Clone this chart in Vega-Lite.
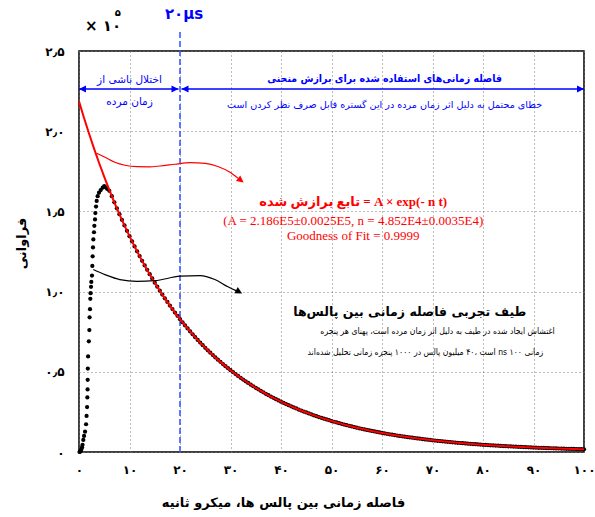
{
  "$schema": "https://vega.github.io/schema/vega-lite/v6.json",
  "width": 505,
  "height": 401,
  "autosize": {"type": "none"},
  "padding": {"left": 79, "top": 51, "right": 11, "bottom": 65},
  "background": "white",
  "config": {
    "view": {"stroke": "black", "strokeWidth": 1.5},
    "axis": {"labelColor": "black", "titleColor": "black"}
  },
  "datasets": {
    "fit": [
      {"t":0,"v":2.186},{"t":1,"v":2.0825},{"t":2,"v":1.9838},{"t":3,"v":1.8899},{"t":4,"v":1.8004},{"t":5,"v":1.7151},{"t":6,"v":1.6339},{"t":7,"v":1.5565},{"t":8,"v":1.4828},{"t":9,"v":1.4125},
      {"t":10,"v":1.3456},{"t":11,"v":1.2819},{"t":12,"v":1.2212},{"t":13,"v":1.1634},{"t":14,"v":1.1083},{"t":15,"v":1.0558},{"t":16,"v":1.0058},{"t":17,"v":0.9581},{"t":18,"v":0.9128},{"t":19,"v":0.8695},
      {"t":20,"v":0.8283},{"t":21,"v":0.7891},{"t":22,"v":0.7517},{"t":23,"v":0.7161},{"t":24,"v":0.6822},{"t":25,"v":0.6499},{"t":26,"v":0.6191},{"t":27,"v":0.5898},{"t":28,"v":0.5619},{"t":29,"v":0.5353},
      {"t":30,"v":0.5099},{"t":31,"v":0.4858},{"t":32,"v":0.4628},{"t":33,"v":0.4408},{"t":34,"v":0.42},{"t":35,"v":0.4001},{"t":36,"v":0.3811},{"t":37,"v":0.3631},{"t":38,"v":0.3459},{"t":39,"v":0.3295},
      {"t":40,"v":0.3139},{"t":41,"v":0.299},{"t":42,"v":0.2849},{"t":43,"v":0.2714},{"t":44,"v":0.2585},{"t":45,"v":0.2463},{"t":46,"v":0.2346},{"t":47,"v":0.2235},{"t":48,"v":0.2129},{"t":49,"v":0.2028},
      {"t":50,"v":0.1932},{"t":51,"v":0.1841},{"t":52,"v":0.1754},{"t":53,"v":0.1671},{"t":54,"v":0.1591},{"t":55,"v":0.1516},{"t":56,"v":0.1444},{"t":57,"v":0.1376},{"t":58,"v":0.1311},{"t":59,"v":0.1249},
      {"t":60,"v":0.1189},{"t":61,"v":0.1133},{"t":62,"v":0.1079},{"t":63,"v":0.1028},{"t":64,"v":0.098},{"t":65,"v":0.0933},{"t":66,"v":0.0889},{"t":67,"v":0.0847},{"t":68,"v":0.0807},{"t":69,"v":0.0769},
      {"t":70,"v":0.0732},{"t":71,"v":0.0698},{"t":72,"v":0.0665},{"t":73,"v":0.0633},{"t":74,"v":0.0603},{"t":75,"v":0.0575},{"t":76,"v":0.0547},{"t":77,"v":0.0521},{"t":78,"v":0.0497},{"t":79,"v":0.0473},
      {"t":80,"v":0.0451},{"t":81,"v":0.0429},{"t":82,"v":0.0409},{"t":83,"v":0.039},{"t":84,"v":0.0371},{"t":85,"v":0.0354},{"t":86,"v":0.0337},{"t":87,"v":0.0321},{"t":88,"v":0.0306},{"t":89,"v":0.0291},
      {"t":90,"v":0.0277},{"t":91,"v":0.0264},{"t":92,"v":0.0252},{"t":93,"v":0.024},{"t":94,"v":0.0229},{"t":95,"v":0.0218},{"t":96,"v":0.0207},{"t":97,"v":0.0198},{"t":98,"v":0.0188},{"t":99,"v":0.0179},{"t":100,"v":0.0171}
    ],
    "exp": [
      {"t":0.1,"v":0.0},{"t":0.2,"v":0.002},{"t":0.3,"v":0.006},{"t":0.4,"v":0.012},{"t":0.5,"v":0.02},{"t":0.6,"v":0.03},{"t":0.7,"v":0.045},{"t":0.85,"v":0.075},{"t":1.0,"v":0.1},{"t":1.2,"v":0.127},
      {"t":1.4,"v":0.173},{"t":1.5,"v":0.225},{"t":1.6,"v":0.28},{"t":1.65,"v":0.34},{"t":1.7,"v":0.39},{"t":1.72,"v":0.45},{"t":1.75,"v":0.52},{"t":1.8,"v":0.596},{"t":1.95,"v":0.69},{"t":2.05,"v":0.76},
      {"t":2.1,"v":0.84},{"t":2.18,"v":0.89},{"t":2.24,"v":0.955},{"t":2.3,"v":0.99},{"t":2.38,"v":1.03},{"t":2.44,"v":1.06},{"t":2.57,"v":1.1},{"t":2.64,"v":1.16},{"t":2.7,"v":1.22},{"t":2.77,"v":1.275},
      {"t":2.84,"v":1.325},{"t":2.97,"v":1.37},{"t":3.04,"v":1.41},{"t":3.17,"v":1.45},{"t":3.24,"v":1.49},{"t":3.37,"v":1.53},{"t":3.5,"v":1.565},{"t":3.7,"v":1.595},{"t":3.96,"v":1.617},{"t":4.3,"v":1.633},
      {"t":4.69,"v":1.648},{"t":5.0,"v":1.658},{"t":5.3,"v":1.65},{"t":5.6,"v":1.64},{"t":6.0,"v":1.628},
      {"t":6.5,"v":1.5947},{"t":7,"v":1.5565},{"t":7.5,"v":1.5192},{"t":8,"v":1.4828},{"t":8.5,"v":1.4472},{"t":9,"v":1.4125},{"t":9.5,"v":1.3787},{"t":10,"v":1.3456},{"t":10.5,"v":1.3134},{"t":11,"v":1.2819},
      {"t":11.5,"v":1.2512},{"t":12,"v":1.2212},{"t":12.5,"v":1.1919},{"t":13,"v":1.1634},{"t":13.5,"v":1.1355},{"t":14,"v":1.1083},{"t":14.5,"v":1.0817},{"t":15,"v":1.0558},{"t":15.5,"v":1.0305},{"t":16,"v":1.0058},
      {"t":16.5,"v":0.9817},{"t":17,"v":0.9581},{"t":17.5,"v":0.9352},{"t":18,"v":0.9128},{"t":18.5,"v":0.8909},{"t":19,"v":0.8695},{"t":19.5,"v":0.8487},{"t":20,"v":0.8283},{"t":20.5,"v":0.8085},{"t":21,"v":0.7891},
      {"t":21.5,"v":0.7702},{"t":22,"v":0.7517},{"t":22.5,"v":0.7337},{"t":23,"v":0.7161},{"t":23.5,"v":0.699},{"t":24,"v":0.6822},{"t":24.5,"v":0.6659},{"t":25,"v":0.6499},{"t":25.5,"v":0.6343},{"t":26,"v":0.6191},
      {"t":26.5,"v":0.6043},{"t":27,"v":0.5898},{"t":27.5,"v":0.5757},{"t":28,"v":0.5619},{"t":28.5,"v":0.5484},{"t":29,"v":0.5353},{"t":29.5,"v":0.5224},{"t":30,"v":0.5099},{"t":30.5,"v":0.4977},{"t":31,"v":0.4858},
      {"t":31.5,"v":0.4741},{"t":32,"v":0.4628},{"t":32.5,"v":0.4517},{"t":33,"v":0.4408},{"t":33.5,"v":0.4303},{"t":34,"v":0.42},{"t":34.5,"v":0.4099},{"t":35,"v":0.4001},{"t":35.5,"v":0.3905},{"t":36,"v":0.3811},
      {"t":36.5,"v":0.372},{"t":37,"v":0.3631},{"t":37.5,"v":0.3544},{"t":38,"v":0.3459},{"t":38.5,"v":0.3376},{"t":39,"v":0.3295},{"t":39.5,"v":0.3216},{"t":40,"v":0.3139},{"t":40.5,"v":0.3064},{"t":41,"v":0.299},
      {"t":41.5,"v":0.2919},{"t":42,"v":0.2849},{"t":42.5,"v":0.278},{"t":43,"v":0.2714},{"t":43.5,"v":0.2649},{"t":44,"v":0.2585},{"t":44.5,"v":0.2523},{"t":45,"v":0.2463},{"t":45.5,"v":0.2404},{"t":46,"v":0.2346},
      {"t":46.5,"v":0.229},{"t":47,"v":0.2235},{"t":47.5,"v":0.2181},{"t":48,"v":0.2129},{"t":48.5,"v":0.2078},{"t":49,"v":0.2028},{"t":49.5,"v":0.198},{"t":50,"v":0.1932},{"t":50.5,"v":0.1886},{"t":51,"v":0.1841},
      {"t":51.5,"v":0.1797},{"t":52,"v":0.1754},{"t":52.5,"v":0.1711},{"t":53,"v":0.1671},{"t":53.5,"v":0.163},{"t":54,"v":0.1591},{"t":54.5,"v":0.1553},{"t":55,"v":0.1516},{"t":55.5,"v":0.148},{"t":56,"v":0.1444},
      {"t":56.5,"v":0.141},{"t":57,"v":0.1376},{"t":57.5,"v":0.1343},{"t":58,"v":0.1311},{"t":58.5,"v":0.1279},{"t":59,"v":0.1249},{"t":59.5,"v":0.1219},{"t":60,"v":0.1189},{"t":60.5,"v":0.1161},{"t":61,"v":0.1133},
      {"t":61.5,"v":0.1106},{"t":62,"v":0.1079},{"t":62.5,"v":0.1054},{"t":63,"v":0.1028},{"t":63.5,"v":0.1004},{"t":64,"v":0.098},{"t":64.5,"v":0.0956},{"t":65,"v":0.0933},{"t":65.5,"v":0.0911},{"t":66,"v":0.0889},
      {"t":66.5,"v":0.0868},{"t":67,"v":0.0847},{"t":67.5,"v":0.0827},{"t":68,"v":0.0807},{"t":68.5,"v":0.0787},{"t":69,"v":0.0769},{"t":69.5,"v":0.075},{"t":70,"v":0.0732},{"t":70.5,"v":0.0715},{"t":71,"v":0.0698},
      {"t":71.5,"v":0.0681},{"t":72,"v":0.0665},{"t":72.5,"v":0.0649},{"t":73,"v":0.0633},{"t":73.5,"v":0.0618},{"t":74,"v":0.0603},{"t":74.5,"v":0.0589},{"t":75,"v":0.0575},{"t":75.5,"v":0.0561},{"t":76,"v":0.0547},
      {"t":76.5,"v":0.0534},{"t":77,"v":0.0521},{"t":77.5,"v":0.0509},{"t":78,"v":0.0497},{"t":78.5,"v":0.0485},{"t":79,"v":0.0473},{"t":79.5,"v":0.0462},{"t":80,"v":0.0451},{"t":80.5,"v":0.044},{"t":81,"v":0.0429},
      {"t":81.5,"v":0.0419},{"t":82,"v":0.0409},{"t":82.5,"v":0.0399},{"t":83,"v":0.039},{"t":83.5,"v":0.038},{"t":84,"v":0.0371},{"t":84.5,"v":0.0362},{"t":85,"v":0.0354},{"t":85.5,"v":0.0345},{"t":86,"v":0.0337},
      {"t":86.5,"v":0.0329},{"t":87,"v":0.0321},{"t":87.5,"v":0.0313},{"t":88,"v":0.0306},{"t":88.5,"v":0.0298},{"t":89,"v":0.0291},{"t":89.5,"v":0.0284},{"t":90,"v":0.0277},{"t":90.5,"v":0.0271},{"t":91,"v":0.0264},
      {"t":91.5,"v":0.0258},{"t":92,"v":0.0252},{"t":92.5,"v":0.0246},{"t":93,"v":0.024},{"t":93.5,"v":0.0234},{"t":94,"v":0.0229},{"t":94.5,"v":0.0223},{"t":95,"v":0.0218},{"t":95.5,"v":0.0212},{"t":96,"v":0.0207},
      {"t":96.5,"v":0.0202},{"t":97,"v":0.0198},{"t":97.5,"v":0.0193},{"t":98,"v":0.0188},{"t":98.5,"v":0.0184},{"t":99,"v":0.0179},{"t":99.5,"v":0.0175},{"t":100,"v":0.0171}
    ]
  },
  "encoding": {
    "x": {
      "field": "t", "type": "quantitative",
      "scale": {"domain": [0, 100], "nice": false, "zero": false},
      "axis": {
        "title": "فاصله زمانی بین پالس ها، میکرو ثانیه",
        "values": [0, 10, 20, 30, 40, 50, 60, 70, 80, 90, 100],
        "labelExpr": "['۰','۱۰','۲۰','۳۰','۴۰','۵۰','۶۰','۷۰','۸۰','۹۰','۱۰۰'][round(datum.value/10)]",
        "grid": true, "gridDash": [1, 3], "gridColor": "#777777", "gridWidth": 1,
        "ticks": false, "domain": false,
        "labelFont": "DejaVu Sans", "labelFontWeight": "bold", "labelFontSize": 12,
        "labelPadding": 12, "labelFlush": false, "labelOverlap": false,
        "titleFont": "DejaVu Sans", "titleFontSize": 13, "titleFontWeight": "bold",
        "titleX": 204, "titleY": 50, "titleBaseline": "middle", "titleAlign": "center"
      }
    },
    "y": {
      "field": "v", "type": "quantitative",
      "scale": {"domain": [0, 2.5], "nice": false},
      "axis": {
        "title": "فراوانی",
        "values": [0, 0.5, 1, 1.5, 2, 2.5],
        "labelExpr": "['۰','۰٫۵','۱٫۰','۱٫۵','۲٫۰','۲٫۵'][round(datum.value*2)]",
        "grid": true, "gridDash": [1, 3], "gridColor": "#777777", "gridWidth": 1,
        "ticks": false, "domain": false,
        "labelFont": "DejaVu Sans", "labelFontWeight": "bold", "labelFontSize": 12,
        "labelPadding": 15, "labelFlush": false, "labelOverlap": false,
        "titleFont": "DejaVu Sans", "titleFontSize": 13, "titleFontWeight": "bold",
        "titleX": -58, "titleY": 192, "titleBaseline": "middle", "titleAlign": "center"
      }
    }
  },
  "layer": [
    {
      "data": {"values": [{"t": 20, "v": 0, "v2": 2.625}]},
      "mark": {"type": "rule", "color": "#3050ff", "strokeWidth": 1.5, "strokeDash": [6, 3]},
      "encoding": {"y2": {"field": "v2"}}
    },
    {
      "data": {"name": "exp"},
      "mark": {"type": "point", "filled": true, "color": "black", "size": 18, "opacity": 1}
    },
    {
      "data": {"name": "fit"},
      "mark": {"type": "line", "color": "#ff0000", "strokeWidth": 2, "interpolate": "monotone"}
    },
    {
      "data": {"values": [{"t": 0, "t2": 19.7, "v": 2.2625}, {"t": 20.3, "t2": 100, "v": 2.2625}]},
      "mark": {"type": "rule", "color": "#0000ff", "strokeWidth": 1.5},
      "encoding": {"x2": {"field": "t2"}}
    },
    {
      "data": {"values": [{"t": 19.7, "v": 2.2625}, {"t": 100, "v": 2.2625}]},
      "mark": {"type": "point", "filled": true, "color": "#0000ff", "opacity": 1, "size": 49, "shape": "M0,0L-2,-1L-2,1Z"}
    },
    {
      "data": {"values": [{"t": 0, "v": 2.2625}, {"t": 20.3, "v": 2.2625}]},
      "mark": {"type": "point", "filled": true, "color": "#0000ff", "opacity": 1, "size": 49, "shape": "M0,0L2,-1L2,1Z"}
    },
    {
      "data": {"values": [
        {"t": 3.5, "v": 1.8625}, {"t": 5.15, "v": 1.8375}, {"t": 7.1, "v": 1.806}, {"t": 9.1, "v": 1.7875},
        {"t": 11.5, "v": 1.779}, {"t": 14, "v": 1.778}, {"t": 16, "v": 1.783}, {"t": 19, "v": 1.794},
        {"t": 22, "v": 1.804}, {"t": 25, "v": 1.8}, {"t": 27.5, "v": 1.78}, {"t": 29.9, "v": 1.744}, {"t": 31.5, "v": 1.706}
      ]},
      "mark": {"type": "line", "color": "#ff0000", "strokeWidth": 1.2, "interpolate": "monotone"}
    },
    {
      "data": {"values": [{"t": 32.6, "v": 1.68}]},
      "mark": {"type": "point", "filled": true, "color": "#ff0000", "opacity": 1, "size": 49, "shape": "M0,0L-2,-1L-2,1Z", "angle": 38}
    },
    {
      "data": {"values": [
        {"t": 2.83, "v": 1.1375}, {"t": 5.15, "v": 1.106}, {"t": 8.1, "v": 1.075}, {"t": 11.5, "v": 1.064},
        {"t": 15, "v": 1.068}, {"t": 20, "v": 1.096}, {"t": 24, "v": 1.1}, {"t": 26.9, "v": 1.075},
        {"t": 29.5, "v": 1.03}, {"t": 31.1, "v": 1.006}
      ]},
      "mark": {"type": "line", "color": "black", "strokeWidth": 1.2, "interpolate": "monotone"}
    },
    {
      "data": {"values": [{"t": 32.3, "v": 0.9875}]},
      "mark": {"type": "point", "filled": true, "color": "black", "opacity": 1, "size": 49, "shape": "M0,0L-2,-1L-2,1Z", "angle": 30}
    },
    {
      "data": {"values": [{"t": 20.8, "v": 2.73, "label": "۲۰µs"}]},
      "mark": {"type": "text", "color": "#0000ff", "font": "DejaVu Sans", "fontWeight": "bold", "fontSize": 15, "align": "center", "baseline": "middle"},
      "encoding": {"text": {"field": "label"}}
    },
    {
      "data": {"values": [
        {"t": 10, "v": 2.319, "label": "اختلال ناشی از"},
        {"t": 10, "v": 2.18, "label": "زمان مرده"}
      ]},
      "mark": {"type": "text", "color": "#0000ff", "font": "DejaVu Sans", "fontSize": 10.5, "align": "center", "baseline": "middle"},
      "encoding": {"text": {"field": "label"}}
    },
    {
      "data": {"values": [
        {"t": 60.5, "v": 2.1625, "label": "خطای محتمل به دلیل اثر زمان مرده در این گستره قابل صرف نظر کردن است"}
      ]},
      "mark": {"type": "text", "color": "#0000ff", "font": "DejaVu Sans", "fontSize": 9.6, "align": "center", "baseline": "middle"},
      "encoding": {"text": {"field": "label"}}
    },
    {
      "data": {"values": [{"t": 60.5, "v": 2.325, "label": "فاصله زمانی‌های استفاده شده برای برازش منحنی"}]},
      "mark": {"type": "text", "color": "#0000ff", "font": "DejaVu Sans Condensed, DejaVu Sans", "fontWeight": "bold", "fontSize": 10.5, "align": "center", "baseline": "middle"},
      "encoding": {"text": {"field": "label"}}
    },
    {
      "data": {"values": [{"t": 1.2, "v": 2.656, "label": "× ۱۰"}]},
      "mark": {"type": "text", "color": "black", "font": "DejaVu Sans", "fontWeight": "bold", "fontSize": 15, "align": "left", "baseline": "middle"},
      "encoding": {"text": {"field": "label"}}
    },
    {
      "data": {"values": [{"t": 7.7, "v": 2.74, "label": "۵"}]},
      "mark": {"type": "text", "color": "black", "font": "DejaVu Sans", "fontWeight": "bold", "fontSize": 10, "align": "center", "baseline": "middle"},
      "encoding": {"text": {"field": "label"}}
    },
    {
      "data": {"values": [{"t": 54.3, "v": 1.556, "label": "تابع برازش شده = A ×  exp(- n  t)"}]},
      "mark": {"type": "text", "color": "#ff0000", "font": "Liberation Serif, DejaVu Sans", "fontWeight": "bold", "fontSize": 13, "align": "center", "baseline": "middle"},
      "encoding": {"text": {"field": "label"}}
    },
    {
      "data": {"values": [
        {"t": 54.3, "v": 1.439, "label": "(A = 2.186E5±0.0025E5, n = 4.852E4±0.0035E4)"},
        {"t": 54.3, "v": 1.344, "label": "Goodness of Fit = 0.9999"}
      ]},
      "mark": {"type": "text", "color": "#ff0000", "font": "Liberation Serif", "fontSize": 13, "align": "center", "baseline": "middle"},
      "encoding": {"text": {"field": "label"}}
    },
    {
      "data": {"values": [{"t": 65.5, "v": 0.875, "label": "طیف تجربی فاصله زمانی بین پالس‌ها"}]},
      "mark": {"type": "text", "color": "black", "font": "DejaVu Sans", "fontWeight": "bold", "fontSize": 12.5, "align": "center", "baseline": "middle"},
      "encoding": {"text": {"field": "label"}}
    },
    {
      "data": {"values": [
        {"t": 71, "v": 0.756, "label": "اغتشاش ایجاد شده در طیف به دلیل اثر زمان مرده است، پهنای هر پنجره"},
        {"t": 68.6, "v": 0.625, "label": "است ،۴۰ میلیون پالس در ۱۰۰۰ پنجره زمانی تحلیل شده‌اند ns ۱۰۰ زمانی"}
      ]},
      "mark": {"type": "text", "color": "black", "font": "DejaVu Sans Condensed, DejaVu Sans", "fontSize": 8.6, "align": "center", "baseline": "middle"},
      "encoding": {"text": {"field": "label"}}
    }
  ]
}
